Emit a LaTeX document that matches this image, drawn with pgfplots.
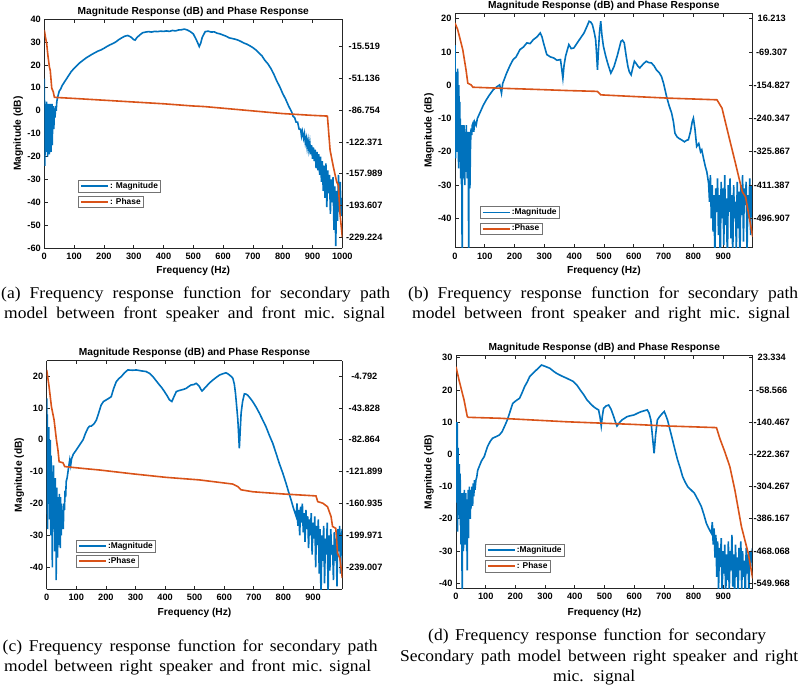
\documentclass[border=0pt]{standalone}
\usepackage{pgfplots}
\pgfplotsset{compat=1.18}
\usepackage{fontspec}
\setmainfont{Liberation Serif}
\newfontfamily\capf[FakeStretch=1.06]{Liberation Serif}
\newfontfamily\axf{Liberation Sans}
\definecolor{mblue}{RGB}{0,114,189}
\definecolor{morange}{RGB}{217,83,25}
\newcommand{\tickfont}{\axf\bfseries\fontsize{9.2}{10}\selectfont}
\newcommand{\labfont}{\axf\bfseries\fontsize{10.2}{11}\selectfont}
\newcommand{\legfont}{\axf\bfseries\fontsize{8.4}{9}\selectfont}
\newcommand{\capfont}{\capf\frenchspacing\fontsize{16.5}{19}\selectfont}
\pgfplotsset{
  frbase/.style={scale only axis, anchor=south west, clip=true,
    axis line style={line width=0.7pt, black!85},
    major tick length=3.5pt,
    tick style={line width=0.7pt, black!85},
    tick label style={font=\tickfont},
    /pgf/number format/assume math mode=true,
    /pgf/number format/set thousands separator={},
    xticklabel style={yshift=-1.5pt},
    label style={font=\labfont},
    title style={font=\labfont, at={(0.5,1)}, anchor=center, yshift=1.5pt},
    legend image code/.code={\draw[#1, line width=1.8pt] (0pt,0pt) -- (27pt,0pt);},
    legend cell align=left,
    legend style={anchor=north west, font=\legfont, draw=black!55, line width=0.5pt,
      inner xsep=1.5pt, inner ysep=0.8pt, nodes={inner sep=1.2pt},
      /tikz/every even column/.style={column sep=0pt}},
  },
  magax/.style={frbase, axis y line*=left},
  phax/.style={frbase, axis y line*=right, axis x line=none,
    yticklabel style={anchor=center}},
  magline/.style={mblue, line width=1.6pt},
  phline/.style={morange, line width=1.6pt},
}
\begin{document}
\begin{tikzpicture}
\path[use as bounding box] (0pt,0pt) rectangle (800pt,686pt);

% ---------------- (a) ----------------
\begin{axis}[magax, at={(44.3pt,437.7pt)}, width=298pt, height=229.3pt,
  xmin=0, xmax=1000, ymin=-60, ymax=40,
  xtick={0,100,...,1000}, ytick={-60,-50,...,40},
  title={Magnitude Response (dB) and Phase Response},
  xlabel={Frequency (Hz)}, ylabel={Magnitude (dB)},
  xlabel style={at={(axis description cs:0.5,-0.097)}, anchor=center},
  ylabel style={at={(axis description cs:-0.087,0.5)}, anchor=center},
  legend style={at={(axis description cs:0.114,0.298)}}]
\addlegendimage{magline}
\addlegendentry{: Magnitude}
\addplot[magline, forget plot] coordinates {(0,14)(1,-5)(2,-24)(3,2)(4,-12)(5,3)(6,-18)(7,-3)(8,4)(9,-15)(10,0)(11,-20)(12,2)(13,-8)(14,3)(15,-17)(16,-2)(17,-19)(18,1)(19,-10)(20,3)(21,-14)(22,-4)(23,-18)(24,0)(25,-9)(26,3)(27,-15)(28,-1)(29,-6)(30,2)(32,-8)(34,1)(36,-3)(38,2)(40,0)(42,4)(45,6)(50,8.5)(55,9.5)(60,11)(70,13)(80,15)(90,17)(100,18.5)(110,19.8)(120,21)(130,22)(140,23)(150,23.8)(160,24.6)(170,25.3)(180,26)(190,26.5)(200,27.2)(210,28)(220,28.7)(230,29.3)(240,30)(250,31)(260,31.8)(270,32.5)(280,32.8)(290,32.2)(300,31)(305,30.8)(310,31.8)(320,33)(330,34)(340,34.3)(350,34.5)(360,34.3)(370,34.6)(380,34.5)(390,34.7)(400,34.6)(410,34.8)(420,34.6)(430,35)(440,34.8)(450,35.2)(460,35.3)(470,35.6)(480,35.2)(490,34.5)(500,33.5)(510,31)(520,28)(525,29.5)(530,32)(540,34.5)(550,34.7)(560,34.3)(570,34.4)(580,33.8)(590,33.5)(600,33)(610,32.5)(620,31.8)(630,31.5)(640,31.2)(650,30.8)(660,30.2)(670,29.5)(680,29)(690,28.3)(700,27.5)(710,26.5)(720,25.2)(730,24)(740,22)(750,20.5)(760,18.5)(770,16)(780,13)(790,10.5)(800,7.5)(810,5)(820,2)(830,-0.5)(835,-2.5)(840,-3)(845,-5)(850,-5)(855,-8)(860,-8)(863,-11)(866,-9)(870,-12)(873,-10)(876,-14)(879,-12)(882,-16)(885,-13)(888,-17)(891,-14)(894,-19)(897,-15)(900,-21)(903,-16)(906,-22)(909,-17)(912,-25)(915,-18)(918,-26)(921,-19)(924,-28)(927,-20)(930,-31)(933,-22)(936,-35)(939,-24)(942,-38)(945,-23)(948,-42)(951,-26)(954,-36)(957,-28)(960,-45)(963,-30)(966,-40)(969,-29)(972,-52)(975,-33)(978,-59)(981,-35)(984,-48)(987,-28)(990,-44)(993,-31)(996,-46)(1000,-38)};
\end{axis}
\begin{axis}[phax, at={(44.3pt,437.7pt)}, width=298pt, height=229.3pt,
  xmin=0, xmax=1000, ymin=-241.6, ymax=15.6,
  ytick={-15.519,-51.136,-86.754,-122.371,-157.989,-193.607,-229.224},
  yticklabels={-15.519,-51.136,-86.754,-122.371,-157.989,-193.607,-229.224},
  yticklabel style={xshift=22pt},
  legend style={at={(axis description cs:0.114,0.229)}}]
\addlegendimage{phline}
\addlegendentry{: Phase}
\addplot[phline, forget plot] coordinates {(0,3.2)(4,-5)(8,-12)(12,-25)(17,-38)(20,-42)(25,-62)(30,-66)(34,-72.3)(100,-73.5)(200,-75.5)(300,-77.5)(400,-79.5)(500,-82)(520,-82.3)(540,-82.7)(600,-84.5)(700,-87.5)(800,-90.5)(850,-91.5)(900,-92.5)(950,-93.3)(959,-131.5)(970,-150.3)(981,-167)(987,-171)(992,-202)(1000,-229.2)};
\end{axis}

% ---------------- (b) ----------------
\begin{axis}[magax, at={(455pt,438.3pt)}, width=297.7pt, height=234.4pt,
  xmin=0, xmax=999, ymin=-48.8, ymax=21.6,
  xtick={0,100,...,900}, ytick={-40,-30,...,20},
  title={Magnitude Response (dB) and Phase Response},
  xlabel={Frequency (Hz)}, ylabel={Magnitude (dB)},
  xlabel style={at={(axis description cs:0.5,-0.098)}, anchor=center},
  ylabel style={at={(axis description cs:-0.087,0.5)}, anchor=center},
  legend style={at={(axis description cs:0.084,0.176)}}]
\addlegendimage{magline}
\addlegendentry{:Magnitude}
\addplot[magline, forget plot] coordinates {(0,12)(1,-2)(2,-22)(3,4)(4,-10)(5,-20)(6,3)(7,-15)(8,-8)(9,5)(10,-18)(11,-6)(12,-25)(13,0)(14,-14)(15,-20)(16,-5)(17,-23)(18,-10)(19,-28)(20,-12)(21,-20)(22,-30)(23,-18)(24,-60)(25,-20)(26,-12)(27,-25)(28,-15)(29,-28)(30,-12)(31,-22)(32,-18)(33,-30)(34,-14)(35,-26)(36,-18)(37,-24)(38,-12)(39,-20)(40,-16)(41,-28)(42,-14)(43,-22)(44,-15)(45,-25)(46,-60)(47,-22)(48,-14)(49,-26)(50,-31)(52,-18)(54,-13)(56,-15)(58,-12)(60,-11.5)(63,-14)(66,-11)(71,-12)(75,-10)(80,-9)(88,-7.4)(95,-6)(105,-4.4)(115,-3)(128,-1.4)(140,-0.5)(150,0.1)(156,-2.4)(160,0.5)(173,3.6)(185,6)(195,7.7)(205,8.5)(218,10.7)(230,11.5)(241,12.7)(252,12.5)(263,13.7)(275,14.5)(286,15.7)(292,14.5)(297,12.7)(308,9.2)(320,8.5)(331,8.2)(342,7.5)(354,7.7)(358,5)(362,2.1)(366,6)(371,8.7)(382,12.2)(390,11)(399,11.2)(410,12.7)(420,14)(433,15.7)(442,17.5)(450,19.2)(455,19)(461,18.2)(467,16)(472,13.7)(476,8)(478,4.6)(481,10)(485,16)(489,19.2)(493,15)(498,11.7)(505,9)(512,6.7)(518,5)(523,3.6)(528,4.5)(534,5.7)(545,9)(557,13.2)(562,13.5)(568,12.7)(574,9)(580,5.7)(585,4)(591,3.1)(596,5)(602,7.2)(608,6.5)(614,5.7)(620,5.2)(625,5.7)(633,6.5)(642,7.2)(650,6.8)(659,6.7)(668,5.8)(676,4.6)(685,3.8)(693,2.6)(700,0.5)(710,-3.4)(718,-6)(727,-8.4)(733,-11)(738,-14.4)(745,-15.5)(752,-16)(760,-16.4)(770,-17)(778,-16.5)(783,-16.4)(790,-14)(796,-11)(800,-9.9)(805,-13)(811,-18.4)(818,-17.5)(824,-20)(828,-19.4)(834,-22)(840,-24.4)(845,-26)(851,-29.5)(854,-35)(857,-27)(860,-40)(863,-30)(866,-44)(869,-33)(872,-52)(875,-31)(878,-38)(881,-28)(884,-45)(887,-33)(890,-55)(893,-29)(896,-40)(899,-31)(902,-48)(905,-27)(908,-42)(911,-34)(914,-55)(917,-30)(920,-38)(923,-28)(926,-46)(929,-33)(932,-52)(935,-30)(938,-40)(941,-35)(944,-50)(947,-29)(950,-43)(953,-32)(956,-55)(959,-30)(962,-39)(965,-27)(968,-47)(971,-31)(974,-36)(977,-29)(980,-50)(983,-33)(986,-40)(989,-28)(992,-45)(995,-30)(999,-35)};
\end{axis}
\begin{axis}[phax, at={(455pt,438.3pt)}, width=297.7pt, height=234.4pt,
  xmin=0, xmax=999, ymin=-572.2, ymax=29.9,
  ytick={16.213,-69.307,-154.827,-240.347,-325.867,-411.387,-496.907},
  yticklabels={16.213,-69.307,-154.827,-240.347,-325.867,-411.387,-496.907},
  yticklabel style={xshift=19pt},
  legend style={at={(axis description cs:0.084,0.107)}}]
\addlegendimage{phline}
\addlegendentry{:Phase}
\addplot[phline, forget plot] coordinates {(0,5.1)(9,-12)(26,-63.3)(37,-115.5)(43,-149.7)(54,-154)(60,-160)(150,-162.5)(250,-165)(376,-168.5)(470,-170.5)(478,-171)(489,-179.6)(602,-183.9)(715,-188)(879,-192.3)(896,-213.8)(919,-286.5)(941,-355)(964,-428.6)(975,-441.5)(999,-544)};
\end{axis}

% ---------------- (c) ----------------
\begin{axis}[magax, at={(46.7pt,96.7pt)}, width=295.6pt, height=228.6pt,
  xmin=0, xmax=999, ymin=-46.9, ymax=24.8,
  xtick={0,100,...,900}, ytick={-40,-30,...,20},
  title={Magnitude Response (dB) and Phase Response},
  xlabel={Frequency (Hz)}, ylabel={Magnitude (dB)},
  xlabel style={at={(axis description cs:0.5,-0.103)}, anchor=center},
  ylabel style={at={(axis description cs:-0.093,0.5)}, anchor=center},
  legend style={at={(axis description cs:0.1,0.216)}}]
\addlegendimage{magline}
\addlegendentry{:Magnitude}
\addplot[magline, forget plot] coordinates {(0,13)(1,-10)(2,8)(3,-28)(4,2)(5,-5)(6,-20)(7,4)(8,-12)(9,-2)(10,-25)(11,-8)(12,0)(13,-18)(14,-30)(15,-5)(16,-15)(17,-22)(18,-10)(19,-40)(20,-12)(21,-25)(22,-18)(23,-8)(24,-28)(25,-15)(26,-22)(27,-35)(28,-20)(29,-12)(30,-28)(31,-18)(32,-44)(33,-25)(34,-15)(35,-30)(36,-22)(37,-37)(38,-18)(39,-28)(40,-33)(41,-20)(42,-26)(43,-17)(44,-30)(45,-22)(46,-34)(47,-18)(48,-25)(49,-30)(50,-20)(52,-27)(54,-22)(56,-28)(58,-20)(60,-22)(62,-16)(64,-18)(66,-13)(69,-12)(72,-10)(75,-8)(78,-6.3)(81,-8)(84,-6)(90,-4.5)(100,-3.2)(112,-1.5)(123,0)(131,2)(139,3.6)(145,4.3)(151,4.3)(160,5)(168,6.2)(176,8.5)(184,10.9)(192,12)(201,12.5)(210,13)(218,13.5)(226,16)(235,18.2)(244,19.2)(252,19.8)(263,21)(274,21.9)(290,21.8)(303,21.9)(320,21.6)(336,21.4)(348,20.8)(359,19.8)(370,18.5)(381,17.2)(390,16.2)(398,15.1)(407,13.8)(415,12.5)(423,12)(430,13.5)(438,15.1)(446,15.4)(454,15.6)(462,15.8)(471,16.1)(480,16.7)(488,17.2)(497,17.3)(505,17.7)(510,17.3)(516,16.7)(521,15.8)(525,15.3)(532,16)(539,16.7)(550,17.8)(561,18.7)(572,19.5)(584,20.3)(595,20.7)(606,21)(612,20.7)(618,20.3)(624,19.8)(629,19.3)(634,17.5)(638,14.6)(642,10.5)(646,6.2)(649,1)(651,-2.7)(654,3)(657,8.3)(662,12)(668,14.4)(674,14.3)(679,14)(688,13)(696,12)(708,10.2)(719,8.3)(730,6.2)(741,4.1)(752,1.5)(764,-1.1)(775,-4.2)(786,-7.4)(798,-10.5)(809,-13.7)(817,-16.2)(826,-18.9)(834,-21.5)(843,-24)(846,-20)(849,-27)(852,-22)(855,-30)(858,-21)(861,-26)(864,-20)(867,-29)(870,-23)(873,-32)(876,-22)(879,-28)(882,-24)(885,-34)(888,-25)(891,-30)(894,-23)(897,-36)(900,-26)(903,-31)(906,-24)(909,-40)(912,-27)(915,-33)(918,-25)(921,-42)(924,-28)(927,-50)(930,-30)(933,-38)(936,-27)(939,-45)(942,-31)(945,-36)(948,-26)(951,-48)(954,-30)(957,-41)(960,-28)(963,-36)(966,-33)(969,-44)(972,-29)(975,-38)(978,-31)(981,-46)(984,-28)(987,-35)(990,-27)(993,-42)(996,-30)(999,-28)};
\end{axis}
\begin{axis}[phax, at={(46.7pt,96.7pt)}, width=295.6pt, height=228.6pt,
  xmin=0, xmax=999, ymin=-265.9, ymax=13.9,
  ytick={-4.792,-43.828,-82.864,-121.899,-160.935,-199.971,-239.007},
  yticklabels={-4.792,-43.828,-82.864,-121.899,-160.935,-199.971,-239.007},
  yticklabel style={xshift=22pt},
  legend style={at={(axis description cs:0.1,0.15)}}]
\addlegendimage{phline}
\addlegendentry{:Phase}
\addplot[phline, forget plot] coordinates {(0,2.6)(8,-17.7)(16,-42.3)(25,-58.7)(33,-83.3)(38,-95.4)(42,-109.8)(55,-111)(61,-115.7)(123,-118)(179,-119.9)(291,-124.6)(404,-128.9)(516,-132)(629,-137.1)(646,-140.2)(657,-144.1)(696,-146.5)(798,-149.2)(910,-151.6)(916,-158.6)(933,-160.5)(949,-164.8)(961,-176.9)(966,-189)(977,-191.3)(983,-221.8)(991,-228)(999,-252.2)};
\end{axis}

% ---------------- (d) ----------------
\begin{axis}[magax, at={(456pt,97.7pt)}, width=296.7pt, height=232.6pt,
  xmin=0, xmax=999, ymin=-41.55, ymax=30.6,
  xtick={0,100,...,900}, ytick={-40,-30,...,30},
  title={Magnitude Response (dB) and Phase Response},
  xlabel={Frequency (Hz)}, ylabel={Magnitude (dB)},
  xlabel style={at={(axis description cs:0.5,-0.107)}, anchor=center},
  ylabel style={at={(axis description cs:-0.091,0.5)}, anchor=center},
  legend style={at={(axis description cs:0.098,0.19)}}]
\addlegendimage{magline}
\addlegendentry{:Magnitude}
\addplot[magline, forget plot] coordinates {(0,10)(1,-5)(2,8)(3,-15)(4,10)(5,-24)(6,-5)(7,2)(8,-18)(9,-8)(10,-12)(11,-3)(12,-20)(13,-10)(14,-6)(15,-22)(16,-14)(17,-28)(18,-12)(19,-20)(20,-33)(21,-42)(22,-18)(23,-26)(24,-12)(25,-30)(26,-16)(27,-22)(28,-11)(29,-25)(30,-14)(31,-28)(32,-18)(33,-12)(34,-24)(35,-15)(36,-30)(37,-20)(38,-36)(39,-14)(40,-22)(41,-11)(42,-26)(43,-13)(44,-19)(45,-10)(46,-16)(47,-12)(48,-20)(49,-11)(50,-17)(52,-14)(54,-10)(56,-16)(58,-9)(60,-13)(62,-8)(64,-11)(67,-8)(70,-7)(73,-5)(78,-3.8)(86,-2)(95,-0.7)(106,2.4)(115,4)(123,5)(135,5.5)(146,6)(155,7)(163,8.6)(172,10.5)(180,12.7)(191,15.8)(200,16.5)(214,17.4)(222,19)(231,21)(240,22.5)(248,24.1)(260,25.2)(271,26.2)(280,27)(288,27.7)(300,27.3)(316,26.7)(328,25.8)(339,25.1)(356,24.3)(373,23.6)(384,23.1)(395,22.6)(407,21.5)(418,20)(430,18.5)(441,16.9)(452,15.8)(463,14.8)(472,14.2)(480,13.8)(485,11.5)(489,8.8)(493,12)(497,14.3)(505,15)(514,15.3)(522,14)(531,11.7)(537,10)(542,8.8)(550,9.8)(559,10.7)(568,11.2)(576,11.7)(588,12)(599,12.2)(610,12.7)(622,13.2)(633,13.5)(644,13.8)(650,12.8)(656,10.7)(661,6)(667,0.3)(672,6)(678,10.7)(684,11.5)(690,12.2)(696,12.8)(701,13.3)(706,12.2)(712,10.7)(720,7.8)(729,4.5)(737,1.5)(746,-1.7)(755,-4.3)(763,-6.9)(771,-8.5)(780,-10)(791,-11)(803,-12.1)(814,-14)(826,-16.2)(835,-18.8)(843,-21.4)(851,-23)(860,-24.5)(863,-21)(866,-28)(869,-23)(872,-32)(875,-25)(878,-38)(881,-27)(884,-42)(887,-29)(890,-35)(893,-26)(896,-44)(899,-30)(902,-37)(905,-28)(908,-45)(911,-31)(914,-39)(917,-27)(920,-43)(923,-30)(926,-36)(929,-25)(932,-41)(935,-31)(938,-45)(941,-28)(944,-38)(947,-32)(950,-44)(953,-29)(956,-36)(959,-27)(962,-42)(965,-30)(968,-38)(971,-33)(974,-45)(977,-29)(980,-37)(983,-31)(986,-43)(989,-30)(992,-35)(995,-31)(999,-33)};
\end{axis}
\begin{axis}[phax, at={(456pt,97.7pt)}, width=296.7pt, height=232.6pt,
  xmin=0, xmax=999, ymin=-562.7, ymax=28.3,
  ytick={23.334,-58.566,-140.467,-222.367,-304.267,-386.167,-468.068,-549.968},
  yticklabels={23.334,-58.566,-140.467,-222.367,-304.267,-386.167,-468.068,-549.968},
  yticklabel style={xshift=19pt},
  legend style={at={(axis description cs:0.098,0.122)}}]
\addlegendimage{phline}
\addlegendentry{: Phase}
\addplot[phline, forget plot] coordinates {(0,0.4)(10,-33.2)(27,-83.9)(38,-126.5)(42,-128.3)(146,-130.6)(373,-139.6)(599,-146.3)(712,-150.3)(877,-154.4)(888,-181.4)(905,-215.8)(922,-253.5)(939,-313.2)(961,-405.8)(984,-473.8)(999,-537.6)};
\end{axis}

% ---------------- captions ----------------
\begin{scope}[every node/.style={anchor=base west, inner sep=0pt, font=\capfont}]
\node at (1pt,387pt) {\makebox[389pt][s]{(a) Frequency response function for secondary path}};
\node at (4pt,367pt) {\makebox[381pt][s]{model between front speaker and front mic. signal}};
\node at (408pt,387pt) {\makebox[390pt][s]{(b) Frequency response function for secondary path}};
\node at (412pt,367pt) {\makebox[378pt][s]{model between front speaker and right mic. signal}};
\node at (2.5pt,35pt) {\makebox[375pt][s]{(c) Frequency response function for secondary path}};
\node at (4pt,14.3pt) {\makebox[367pt][s]{model between right speaker and front mic. signal}};
\node at (428pt,45.5pt) {\makebox[338pt][s]{(d) Frequency response function for secondary}};
\node at (400pt,24.5pt) {\makebox[398pt][s]{Secondary path model between right speaker and right}};
\node at (553pt,4.5pt) {\makebox[82pt][s]{mic. signal}};
\end{scope}
\end{tikzpicture}
\end{document}
